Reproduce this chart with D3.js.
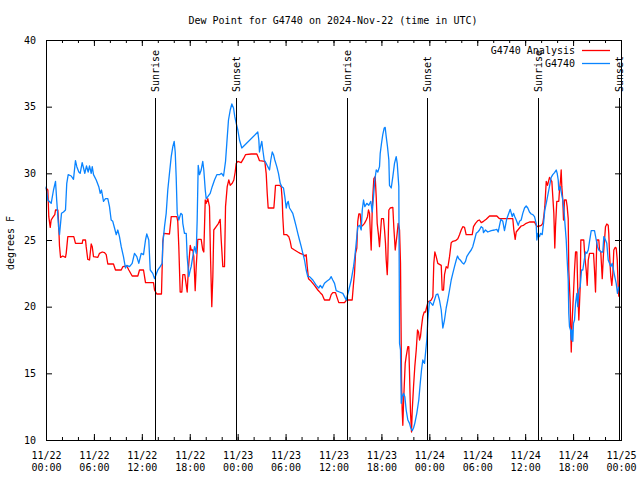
<!DOCTYPE html>
<html><head><meta charset="utf-8">
<script src="https://cdn.jsdelivr.net/npm/d3@7"></script>
<style>
body{margin:0;background:#fff}
svg text{font-family:"DejaVu Sans Mono",monospace;font-size:10px;fill:#000}
</style>
</head><body><svg id="c" width="640" height="480"></svg>
<script>
const title = "Dew Point for G4740 on 2024-Nov-22 (time in UTC)";
const yLabel = "degrees F";
const seriesNames = ["G4740 Analysis", "G4740"];
const seriesColors = ["#ff0000", "#0a84ff"];
const startTime = "2024-11-22T00:00:00Z";
const endTime = "2024-11-25T00:00:00Z";
const yTicks = [10, 15, 20, 25, 30, 35, 40];
const sunEvents = [
  ["Sunrise", "2024-11-22T13:40:00Z"], ["Sunset", "2024-11-22T23:45:00Z"],
  ["Sunrise", "2024-11-23T13:40:00Z"], ["Sunset", "2024-11-23T23:45:00Z"],
  ["Sunrise", "2024-11-24T13:40:00Z"], ["Sunset", "2024-11-24T23:45:00Z"]
];
// [hours since start, degrees F]
const analysisSeries = [[0,28.9],[0.23,28.75],[0.35,26.75],[0.53,25.95],[0.65,26.5],[0.85,26.7],[1.10,26.9],[1.19,27.25],[1.48,27.25],[1.57,26.4],[1.69,24.55],[1.82,23.7],[2.10,23.8],[2.44,23.7],[2.53,24.0],[2.73,25.25],[3.48,25.25],[3.69,24.75],[4.53,24.75],[4.61,25.0],[4.95,25.0],[5.03,24.5],[5.23,23.55],[5.45,23.5],[5.66,24.7],[5.79,24.5],[5.95,23.75],[6.49,23.7],[6.70,24.0],[7.04,24.1],[7.33,24.05],[7.54,23.9],[7.74,23.2],[8.45,23.2],[8.70,22.75],[9.42,22.75],[9.62,23.0],[10.12,23.05],[10.37,22.75],[10.79,22.3],[11.50,22.3],[11.71,22.75],[12.21,22.75],[12.46,21.8],[13.46,21.8],[13.59,21.25],[13.87,20.95],[14.46,20.95],[14.63,24.9],[14.75,25.5],[15.46,25.45],[15.68,26.75],[16.38,26.75],[16.50,26.4],[16.63,24.5],[16.80,21.1],[17.01,21.1],[17.13,22.4],[17.38,22.4],[17.47,22.0],[17.68,21.1],[17.84,22.9],[18.06,24.6],[18.18,24.25],[18.38,24.25],[18.51,23.75],[18.68,21.2],[18.81,23.0],[19.01,25.05],[19.43,25.05],[19.63,24.25],[19.76,24.1],[19.94,28.0],[20.06,27.75],[20.26,28.1],[20.47,27.5],[20.60,23.75],[20.76,20.0],[20.89,22.25],[21.01,25.75],[21.31,26.0],[21.60,26.25],[21.81,26.55],[21.94,25.0],[22.14,23.0],[22.35,23.0],[22.48,27.5],[22.69,29.0],[22.89,29.5],[23.07,29.1],[23.32,29.25],[23.52,29.5],[23.69,30.1],[23.82,30.75],[24.02,30.9],[24.44,30.8],[24.73,31.1],[24.98,31.4],[25.70,31.45],[26.40,31.45],[26.57,31.2],[26.73,30.95],[27.40,30.9],[27.57,30.0],[27.70,28.5],[27.82,27.4],[28.53,27.4],[28.61,28.0],[28.74,29.1],[29.24,29.1],[29.45,29.0],[29.58,28.0],[29.65,26.75],[29.78,25.4],[30.15,25.4],[30.40,25.25],[30.58,24.9],[30.74,24.4],[31.12,24.25],[31.53,24.1],[31.83,24.0],[32.25,23.9],[32.41,23.8],[32.58,23.9],[32.71,23.0],[32.87,22.1],[33.21,21.9],[33.62,21.6],[34.04,21.25],[34.34,21.05],[34.59,20.9],[34.87,20.5],[35.50,20.5],[35.71,20.9],[35.91,21.05],[36.25,21.05],[36.41,20.75],[36.66,20.3],[37.38,20.3],[37.63,20.5],[38.34,20.5],[38.51,21.75],[38.63,22.5],[38.76,24.0],[38.92,24.4],[39.04,26.4],[39.17,26.95],[39.34,26.95],[39.47,26.0],[39.67,26.1],[39.88,26.25],[40.10,26.5],[40.26,26.75],[40.38,27.25],[40.51,27.0],[40.60,25.75],[40.72,24.25],[40.85,27.25],[40.92,28.25],[41.05,29.6],[41.22,29.75],[41.35,28.25],[41.47,26.25],[41.63,25.4],[41.76,24.5],[41.88,25.5],[42.01,26.6],[42.26,26.6],[42.39,25.75],[42.51,24.75],[42.60,23.5],[42.73,22.4],[42.80,23.5],[42.93,27.25],[43.10,27.4],[43.43,27.45],[43.55,26.0],[43.73,24.25],[43.93,25.25],[44.10,26.25],[44.27,25.75],[44.39,23.25],[44.52,14.5],[44.60,12.25],[44.68,11.1],[44.80,13.25],[44.98,15.75],[45.10,16.25],[45.31,17.0],[45.43,17.0],[45.52,15.0],[45.64,12.1],[45.77,10.6],[45.86,12.25],[46.02,14.0],[46.18,15.5],[46.36,16.75],[46.52,18.25],[46.65,18.1],[46.77,17.5],[46.89,17.75],[47.02,18.5],[47.18,19.25],[47.36,19.6],[47.52,19.6],[47.68,20.0],[47.86,20.4],[48.02,20.4],[48.24,20.5],[48.44,20.75],[48.56,23.25],[48.69,24.1],[48.86,23.75],[49.06,23.25],[49.49,23.1],[49.61,21.25],[49.78,21.25],[49.90,22.4],[50.11,23.0],[50.31,22.9],[50.53,23.75],[50.74,24.8],[50.94,24.9],[51.28,24.95],[51.57,25.1],[51.78,25.4],[51.99,25.75],[52.19,26.0],[52.41,25.95],[52.61,25.4],[53.37,25.4],[53.53,26.0],[53.78,26.25],[54.07,26.45],[54.28,26.5],[54.50,26.3],[54.78,26.4],[55.12,26.55],[55.54,26.8],[56.45,26.8],[56.79,26.6],[58.45,26.6],[58.58,25.75],[58.75,25.05],[58.88,25.6],[59.29,25.9],[59.50,26.05],[59.79,26.1],[60.13,26.25],[60.54,26.35],[61.17,26.35],[61.38,26.1],[61.58,26.0],[62.01,26.1],[62.21,26.25],[62.34,26.8],[62.46,27.5],[62.64,29.4],[62.80,29.1],[62.92,29.4],[63.05,29.7],[63.21,29.5],[63.34,29.4],[63.46,28.25],[63.59,27.0],[63.71,24.4],[63.80,26.0],[63.96,27.9],[64.21,27.9],[64.30,28.75],[64.43,29.5],[64.51,30.25],[64.59,29.0],[64.71,28.0],[64.80,26.5],[64.93,28.0],[65.14,28.0],[65.26,27.5],[65.39,26.6],[65.46,22.75],[65.64,20.25],[65.77,16.6],[65.89,19.0],[66.05,21.0],[66.18,22.75],[66.31,24.1],[66.47,24.1],[66.59,21.25],[66.72,19.0],[66.89,21.5],[66.97,25.0],[67.34,25.0],[67.47,23.75],[67.64,22.75],[67.77,21.6],[67.90,23.5],[68.06,24.0],[68.56,24.0],[68.68,22.75],[68.81,21.1],[68.97,25.0],[69.22,25.0],[69.31,24.25],[69.47,24.1],[69.65,22.1],[69.81,24.0],[70.06,26.0],[70.22,26.2],[70.40,26.1],[70.47,25.5],[70.56,24.0],[70.72,22.25],[70.85,21.6],[70.98,22.5],[71.10,24.25],[71.28,24.45],[71.40,24.4],[71.53,23.5],[71.65,21.5],[71.73,20.75]];
const observedSeries = [[0,29.0],[0.23,28.0],[0.65,27.75],[0.94,28.75],[1.19,29.4],[1.35,27.9],[1.57,26.0],[1.69,25.4],[1.94,27.0],[2.19,27.1],[2.44,27.25],[2.60,29.25],[2.78,29.9],[3.16,29.8],[3.44,29.55],[3.69,30.95],[3.86,30.5],[4.11,30.1],[4.28,30.0],[4.53,30.8],[4.70,30.4],[4.86,30.0],[5.07,30.55],[5.28,30.1],[5.45,30.55],[5.66,30.0],[5.79,30.5],[5.95,29.9],[6.29,29.5],[6.61,29.0],[6.79,28.5],[6.95,28.75],[7.20,27.9],[7.45,28.1],[7.74,28.1],[7.95,27.5],[8.16,26.5],[8.36,26.4],[8.58,25.9],[8.79,25.4],[8.99,25.75],[9.20,25.25],[9.42,24.5],[9.70,23.75],[9.95,22.9],[10.12,23.1],[10.46,23.0],[10.79,23.25],[11.08,24.0],[11.37,23.75],[11.62,23.25],[11.92,24.0],[12.21,23.9],[12.46,25.0],[12.62,25.45],[12.87,25.0],[13.05,22.75],[13.37,22.5],[13.59,22.1],[14.00,22.75],[14.30,23.0],[14.55,23.25],[14.63,24.75],[14.84,26.0],[15.05,27.0],[15.25,28.75],[15.46,30.0],[15.68,31.25],[15.88,32.0],[16.05,32.4],[16.18,31.6],[16.30,29.75],[16.43,27.0],[16.63,26.5],[16.88,27.0],[17.06,26.9],[17.13,26.25],[17.34,25.5],[17.56,25.5],[17.68,23.75],[17.88,22.25],[18.06,22.75],[18.18,23.0],[18.38,23.75],[18.60,24.5],[18.81,24.0],[18.93,26.5],[19.06,30.6],[19.22,29.9],[19.43,30.25],[19.63,30.9],[19.76,30.25],[19.94,28.75],[20.06,28.1],[20.26,28.25],[20.56,28.5],[20.81,29.0],[21.10,29.5],[21.39,29.9],[21.73,29.9],[21.98,30.0],[22.23,29.8],[22.48,30.9],[22.64,32.25],[22.85,34.0],[23.07,34.75],[23.27,35.2],[23.48,34.9],[23.64,34.25],[23.82,33.75],[24.02,33.25],[24.23,32.5],[24.52,31.9],[26.52,33.1],[26.65,32.5],[26.73,31.6],[26.86,32.0],[27.02,32.4],[27.15,31.75],[27.32,31.0],[27.57,30.75],[27.77,30.5],[27.99,30.25],[28.15,31.0],[28.33,31.6],[28.49,31.4],[28.65,31.0],[28.90,30.5],[29.11,30.0],[29.33,29.25],[29.53,29.0],[29.74,28.9],[29.90,28.25],[30.08,27.4],[30.20,27.75],[30.33,27.9],[30.49,27.4],[30.65,27.25],[30.90,27.0],[31.12,26.5],[31.33,26.0],[31.53,25.5],[31.74,25.0],[31.96,24.5],[32.16,24.0],[32.37,23.5],[32.58,22.75],[32.78,22.25],[33.00,22.25],[33.41,22.0],[33.84,21.6],[34.16,21.4],[34.34,21.6],[34.59,21.4],[34.87,21.75],[35.16,21.9],[35.50,22.05],[35.71,22.25],[35.91,22.0],[36.13,21.75],[36.34,21.2],[36.75,21.1],[37.17,21.0],[37.38,20.75],[37.59,20.5],[37.92,21.25],[38.22,22.0],[38.51,23.0],[38.67,23.75],[38.84,24.75],[39.04,26.0],[39.26,26.1],[39.47,25.75],[39.60,27.25],[39.76,28.0],[39.92,27.5],[40.17,27.75],[40.42,27.6],[40.67,27.9],[40.85,27.1],[41.01,28.25],[41.17,29.5],[41.35,30.25],[41.55,30.1],[41.76,30.5],[41.85,31.5],[42.01,32.25],[42.17,32.9],[42.35,33.4],[42.47,33.45],[42.60,32.75],[42.76,32.0],[42.93,31.0],[43.01,29.1],[43.23,28.9],[43.43,29.75],[43.64,30.75],[43.85,31.25],[43.98,30.75],[44.18,29.0],[44.27,17.25],[44.39,16.75],[44.48,12.75],[44.60,13.25],[44.77,13.5],[44.93,13.25],[45.10,12.25],[45.31,11.5],[45.52,11.25],[45.68,10.9],[45.86,10.7],[46.02,10.9],[46.18,11.25],[46.43,12.0],[46.68,13.0],[46.86,14.25],[47.02,15.25],[47.18,16.0],[47.40,15.75],[47.52,16.5],[47.68,17.5],[47.81,19.0],[48.02,20.4],[48.24,20.25],[48.44,20.1],[48.65,20.5],[48.86,20.9],[49.06,20.95],[49.27,20.5],[49.49,19.75],[49.69,18.4],[49.90,19.0],[50.11,19.9],[50.31,20.5],[50.53,21.25],[50.74,22.0],[50.94,22.5],[51.15,23.0],[51.37,23.5],[51.53,23.8],[51.69,23.6],[51.87,23.5],[52.12,23.3],[52.32,23.2],[52.53,23.4],[52.69,23.75],[52.94,24.0],[53.24,24.25],[53.44,24.5],[53.66,25.0],[53.87,25.5],[54.07,25.6],[54.28,25.75],[54.50,26.0],[54.70,25.9],[54.78,25.55],[55.03,25.75],[55.32,25.6],[55.75,25.7],[56.16,25.75],[56.45,25.8],[56.62,25.6],[56.79,26.1],[56.95,26.55],[57.20,26.4],[57.41,25.7],[57.54,26.1],[57.70,26.6],[57.95,27.0],[58.13,27.3],[58.38,26.75],[58.54,27.0],[58.70,26.75],[58.88,26.5],[59.13,26.1],[59.29,26.4],[59.50,26.5],[59.70,27.0],[59.92,27.4],[60.13,27.55],[60.33,27.4],[60.54,27.1],[60.76,26.95],[60.96,26.9],[61.17,26.75],[61.38,26.25],[61.46,25.0],[61.58,25.5],[61.80,25.25],[61.92,25.5],[62.13,25.4],[62.30,26.25],[62.46,27.25],[62.64,27.75],[62.80,28.25],[62.96,28.75],[63.26,29.7],[63.46,29.9],[63.68,30.05],[63.89,30.25],[64.01,30.0],[64.14,29.5],[64.21,28.75],[64.39,29.0],[64.55,28.5],[64.71,28.0],[64.89,27.0],[65.01,26.0],[65.14,25.0],[65.26,23.5],[65.39,22.0],[65.46,19.5],[65.55,18.5],[65.68,18.25],[65.77,17.5],[65.84,18.25],[65.97,17.4],[66.05,18.75],[66.18,19.0],[66.31,20.25],[66.47,21.0],[66.59,20.0],[66.72,21.25],[66.89,21.5],[67.06,22.75],[67.22,22.75],[67.40,23.5],[67.56,24.1],[67.72,24.0],[67.90,24.25],[68.06,24.9],[68.27,25.7],[68.68,25.7],[68.90,25.0],[69.06,24.5],[69.22,24.25],[69.52,24.1],[69.72,24.1],[69.85,25.25],[70.06,25.0],[70.22,24.75],[70.40,23.5],[70.56,23.25],[70.72,23.0],[70.90,23.25],[71.06,22.75],[71.22,22.25],[71.40,21.75],[71.56,21.0],[71.73,21.5]];

const svg = d3.select("#c");
const t0 = new Date(startTime), t1 = new Date(endTime);
const x = d3.scaleUtc().domain([t0, t1]).range([46, 621]);
const y = d3.scaleLinear().domain([10, 40]).range([440, 40]);
const toDate = h => new Date(t0.getTime() + h * 3600e3);

// title
svg.append("text").attr("x", 333).attr("y", 23.5).attr("text-anchor", "middle").text(title);
// y label
svg.append("text").attr("transform", "translate(10,243) rotate(-90)")
  .attr("text-anchor", "middle").attr("dy", "0.35em").text(yLabel);

// data lines
const line = d3.line().x(d => x(toDate(d[0]))).y(d => y(d[1]));
const gData = svg.append("g");
[analysisSeries, observedSeries].forEach((s, i) => {
  gData.append("path").datum(s).attr("d", line)
    .attr("fill", "none").attr("stroke", seriesColors[i])
    .attr("stroke-width", 1.3).attr("stroke-linejoin", "round");
});

// sunrise / sunset
sunEvents.forEach(([name, t]) => {
  const px = Math.round(x(new Date(t))) + 0.5;
  svg.append("line").attr("x1", px).attr("x2", px).attr("y1", 98).attr("y2", 440)
    .attr("stroke", "#000").attr("stroke-width", 1);
  svg.append("text").attr("transform", `translate(${px},92) rotate(-90)`)
    .attr("dy", "0.35em").attr("text-anchor", "start").text(name);
});

// axes
const major = d3.utcHour.every(6), minor = d3.utcHour.every(2);
function styleAxis(g) { g.select(".domain").remove(); g.selectAll("line").attr("stroke", "#000"); g.selectAll("text").remove(); }
svg.append("g").attr("transform", "translate(0,440)").call(d3.axisBottom(x).ticks(minor).tickSize(-3).tickFormat("")).call(styleAxis);
svg.append("g").attr("transform", "translate(0,440)").call(d3.axisBottom(x).ticks(major).tickSize(-6).tickFormat("")).call(styleAxis);
svg.append("g").attr("transform", "translate(0,40)").call(d3.axisTop(x).ticks(minor).tickSize(-3).tickFormat("")).call(styleAxis);
svg.append("g").attr("transform", "translate(0,40)").call(d3.axisTop(x).ticks(major).tickSize(-6).tickFormat("")).call(styleAxis);
svg.append("g").attr("transform", "translate(621,0)").call(d3.axisRight(y).tickValues(yTicks).tickSize(-6).tickFormat("")).call(styleAxis);
const gy = svg.append("g").attr("transform", "translate(46,0)")
  .call(d3.axisLeft(y).tickValues(yTicks).tickSize(-6).tickPadding(10).tickFormat(d3.format("d")));
gy.select(".domain").remove();
gy.selectAll("line").attr("stroke", "#000");
gy.selectAll("text").attr("font-family", null).attr("font-size", null).attr("fill", "#000");

// x tick labels (two lines)
const fDay = d3.utcFormat("%m/%d"), fTime = d3.utcFormat("%H:%M");
x.ticks(major).forEach(d => {
  const px = x(d) + 0.5;
  const t = svg.append("text").attr("x", px).attr("y", 459).attr("text-anchor", "middle");
  t.text(fDay(d));
  svg.append("text").attr("x", px).attr("y", 471).attr("text-anchor", "middle").text(fTime(d));
});

// frame
svg.append("rect").attr("x", 46.5).attr("y", 40.5).attr("width", 575).attr("height", 400)
  .attr("fill", "none").attr("stroke", "#000");

// legend
seriesNames.forEach((n, i) => {
  const ly = 50 + i * 13;
  svg.append("text").attr("x", 575).attr("y", ly).attr("dy", "0.35em").attr("text-anchor", "end").text(n);
  svg.append("line").attr("x1", 582).attr("x2", 610).attr("y1", ly + 0.5).attr("y2", ly + 0.5)
    .attr("stroke", seriesColors[i]).attr("stroke-width", 1.3);
});
</script></body></html>
